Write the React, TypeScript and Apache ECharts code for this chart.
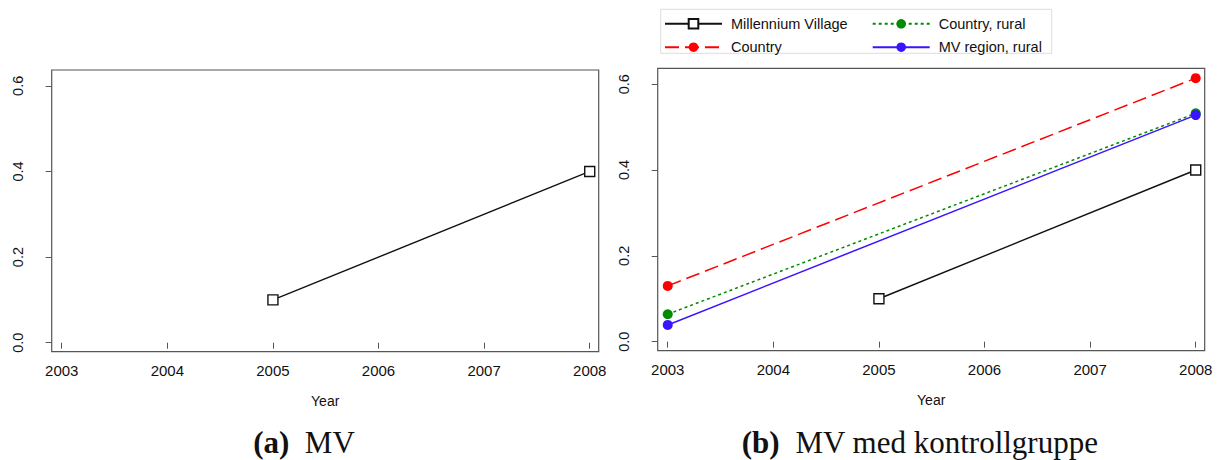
import React, { useEffect, useRef } from "react";
import * as echarts from "echarts";

const years = [2003, 2004, 2005, 2006, 2007, 2008];
const yTicks = [0, 0.2, 0.4, 0.6];
const mvYears = [2005, 2008];
const mvValues = [0.1, 0.4];
const ctrlYears = [2003, 2008];
const countryValues = [0.13, 0.614];
const countryRuralValues = [0.064, 0.532];
const mvRegionRuralValues = [0.039, 0.528];

const SANS = "Liberation Sans, Arial, sans-serif";
const SERIF = "Liberation Serif, Times New Roman, serif";

const pairs = (xs: number[], ys: number[]) => xs.map((x, i) => [x, ys[i]]);

function xAxis(gridIndex: number) {
  return {
    type: "value",
    gridIndex,
    min: 2002.905,
    max: 2008.085,
    axisLine: { show: false },
    splitLine: { show: false },
    axisTick: { show: true, length: 6, lineStyle: { color: "#555" }, customValues: years },
    axisLabel: {
      customValues: years,
      margin: 11,
      fontSize: 15,
      color: "#111",
      fontFamily: SANS,
      formatter: (v: number) => String(Math.round(v)),
    },
    name: "Year",
    nameLocation: "middle",
    nameGap: 42,
    nameTextStyle: { fontSize: 14, color: "#111", fontFamily: SANS },
  };
}

function yAxis(gridIndex: number) {
  return {
    type: "value",
    gridIndex,
    min: -0.021,
    max: 0.637,
    axisLine: { show: false },
    splitLine: { show: false },
    axisTick: { show: true, length: 6, lineStyle: { color: "#555" }, customValues: yTicks },
    axisLabel: {
      customValues: yTicks,
      rotate: 90,
      margin: 26,
      fontSize: 14.5,
      color: "#111",
      fontFamily: SANS,
      formatter: (v: number) => v.toFixed(1),
    },
  };
}

function legend(names: string[], left: number) {
  return {
    data: names,
    orient: "vertical",
    left,
    top: 16.3,
    padding: 0,
    itemWidth: 57,
    itemHeight: 12,
    itemGap: 8.4,
    selectedMode: false,
    textStyle: { fontSize: 14.5, color: "#111", fontFamily: SANS, padding: [0, 0, 0, 4] },
  };
}

function caption(text: string, x: number) {
  return {
    type: "text",
    x,
    y: 442,
    style: {
      text,
      font: `31px ${SERIF}`,
      fill: "#111",
      textAlign: "center",
      textVerticalAlign: "middle",
      rich: { b: { fontWeight: "bold", fontSize: 31, fontFamily: SERIF } },
    },
  };
}

export default function App() {
  const ref = useRef<HTMLDivElement>(null);
  useEffect(() => {
    if (!ref.current) return;
    const chart = echarts.init(ref.current, null, { renderer: "svg" });
    const mvStyle = {
      type: "line",
      symbol: "rect",
      symbolSize: 10,
      lineStyle: { color: "#111", width: 1.4 },
      itemStyle: { color: "#fff", borderColor: "#111", borderWidth: 1.4 },
    };
    chart.setOption({
      animation: false,
      grid: [
        {
          left: 51.7, top: 70, width: 547, height: 281.7,
          show: true, borderColor: "#555", borderWidth: 1.2,
          containLabel: false, outerBoundsMode: "none",
        },
        {
          left: 657.7, top: 68.3, width: 547, height: 282.4,
          show: true, borderColor: "#555", borderWidth: 1.2,
          containLabel: false, outerBoundsMode: "none",
        },
      ],
      xAxis: [xAxis(0), xAxis(1)],
      yAxis: [yAxis(0), yAxis(1)],
      legend: [
        legend(["Millennium Village", "Country"], 664),
        legend(["Country, rural", "MV region, rural"], 871.7),
      ],
      graphic: [
        {
          type: "rect",
          shape: { x: 660.7, y: 9.3, width: 391, height: 44 },
          style: { fill: "none", stroke: "#ddd", lineWidth: 1 },
          silent: true,
        },
        caption("{b|(a)}  MV", 304),
        caption("{b|(b)}  MV med kontrollgruppe", 920),
      ],
      series: [
        { ...mvStyle, name: "Millennium Village", xAxisIndex: 0, yAxisIndex: 0, data: pairs(mvYears, mvValues) },
        { ...mvStyle, name: "Millennium Village", xAxisIndex: 1, yAxisIndex: 1, data: pairs(mvYears, mvValues) },
        {
          type: "line",
          name: "Country",
          xAxisIndex: 1,
          yAxisIndex: 1,
          symbol: "circle",
          symbolSize: 10,
          lineStyle: { color: "#ff0000", width: 1.5, type: [14, 6] },
          itemStyle: { color: "#ff0000" },
          data: pairs(ctrlYears, countryValues),
        },
        {
          type: "line",
          name: "Country, rural",
          xAxisIndex: 1,
          yAxisIndex: 1,
          symbol: "circle",
          symbolSize: 10,
          lineStyle: { color: "#008b00", width: 1.5, type: [3, 3] },
          itemStyle: { color: "#008b00" },
          data: pairs(ctrlYears, countryRuralValues),
        },
        {
          type: "line",
          name: "MV region, rural",
          xAxisIndex: 1,
          yAxisIndex: 1,
          symbol: "circle",
          symbolSize: 10,
          lineStyle: { color: "#3a14ff", width: 1.5 },
          itemStyle: { color: "#3a14ff" },
          data: pairs(ctrlYears, mvRegionRuralValues),
        },
      ],
    });
    return () => chart.dispose();
  }, []);
  return <div ref={ref} style={{ position: "absolute", left: 0, top: 0, width: 1220, height: 460 }} />;
}
